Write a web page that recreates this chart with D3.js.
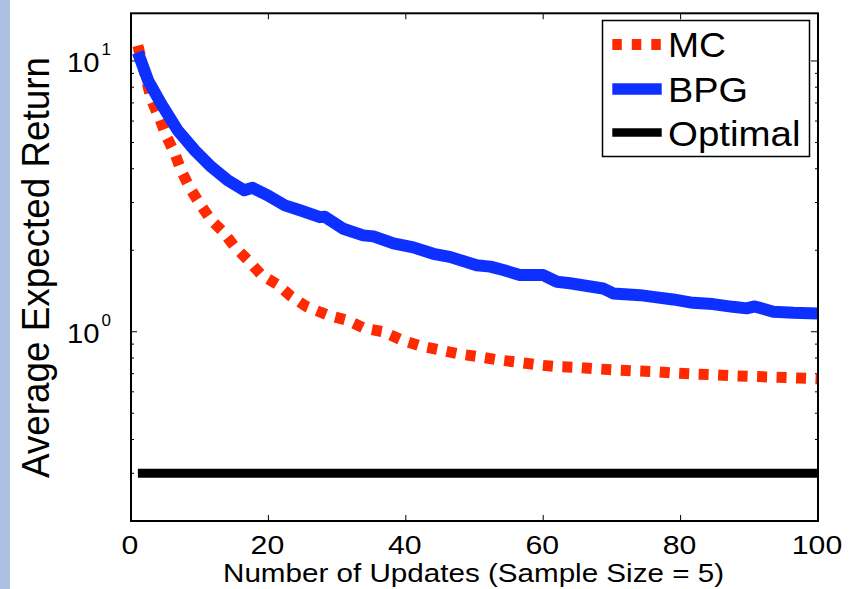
<!DOCTYPE html>
<html>
<head>
<meta charset="utf-8">
<script src="https://cdn.jsdelivr.net/npm/d3@7"></script>
<style>
  html, body { margin: 0; padding: 0; background: #fff; }
  svg { display: block; }
  text { font-family: "Liberation Sans", Arial, Helvetica, sans-serif; fill: #000; }
</style>
</head>
<body>
<svg id="chart" width="852" height="589"></svg>
<script>
// ---- data ----
const mcX = [1, 3, 4.2, 5.1, 6.4, 7.3, 8.5, 10, 11.7, 13.4, 15.1, 17, 19, 21.4, 23.3, 25.5, 28.7, 31.6, 34, 36.7, 39.4, 42.1, 45, 47.8, 50.6, 53.6, 56.4, 59.3, 62.1, 65, 67.9, 70.8, 73.8, 76.5, 79.4, 82.3, 85.2, 88.1, 91, 94, 96.9, 100];
const mcY = [11.39, 7.14, 6.11, 5.31, 4.54, 3.94, 3.42, 2.97, 2.58, 2.34, 2.06, 1.84, 1.62, 1.49, 1.35, 1.24, 1.15, 1.10, 1.03, 1.00, 0.932, 0.886, 0.856, 0.828, 0.809, 0.786, 0.771, 0.754, 0.743, 0.739, 0.729, 0.722, 0.716, 0.712, 0.703, 0.697, 0.693, 0.687, 0.683, 0.679, 0.675, 0.67];
const bpgX = [1, 2.5, 4.4, 6.8, 9.3, 11.7, 14.1, 16.5, 17.7, 19.9, 22.4, 24.6, 27.5, 28.2, 30.9, 33.8, 35.3, 38.2, 41.1, 44.0, 46.4, 50.3, 52.3, 54.2, 56.6, 60.0, 62.0, 63.9, 68.7, 70.2, 74.1, 76.0, 78.9, 81.8, 84.7, 87.6, 89.6, 90.8, 93.5, 96.4, 100];
const bpgY = [10.76, 8.46, 6.94, 5.54, 4.67, 4.06, 3.62, 3.33, 3.40, 3.19, 2.93, 2.81, 2.65, 2.66, 2.40, 2.27, 2.25, 2.12, 2.05, 1.94, 1.89, 1.76, 1.74, 1.69, 1.62, 1.62, 1.53, 1.51, 1.445, 1.385, 1.365, 1.345, 1.316, 1.279, 1.265, 1.236, 1.22, 1.24, 1.185, 1.175, 1.169];
const optimalX = [1, 100];
const optimalY = [0.3, 0.3];
const seriesNames = ["MC", "BPG", "Optimal"];
const xTicks = [0, 20, 40, 60, 80, 100];
const yMajorTicks = [1, 10];
const yMajorExp = ["0", "1"];
const yMinorTicks = [0.3, 0.4, 0.5, 0.6, 0.7, 0.8, 0.9, 2, 3, 4, 5, 6, 7, 8, 9];
const xLabel = "Number of Updates (Sample Size = 5)";
const yLabel = "Average Expected Return";

// ---- layout ----
const L = 131, R = 818, T = 13.3, B = 521;
const svg = d3.select("#chart");

svg.append("rect").attr("x", 0).attr("y", 0).attr("width", 10).attr("height", 589).attr("fill", "#a9c0e0");

const x = d3.scaleLinear().domain([0, 100]).range([L, R]);
const y = d3.scaleLog().domain([0.2, 15]).range([B, T]);

svg.append("defs").append("clipPath").attr("id", "clip")
  .append("rect").attr("x", L).attr("y", T).attr("width", R - L).attr("height", B - T);

// ticks (inward, all four sides)
const tickG = svg.append("g").attr("stroke", "#000").attr("stroke-width", 1);
xTicks.forEach(v => {
  tickG.append("line").attr("x1", x(v)).attr("x2", x(v)).attr("y1", B).attr("y2", B - 6);
  tickG.append("line").attr("x1", x(v)).attr("x2", x(v)).attr("y1", T).attr("y2", T + 6);
});
yMajorTicks.forEach(v => {
  tickG.append("line").attr("x1", L).attr("x2", L + 6).attr("y1", y(v)).attr("y2", y(v));
  tickG.append("line").attr("x1", R).attr("x2", R - 7).attr("y1", y(v)).attr("y2", y(v));
});
yMinorTicks.forEach(v => {
  tickG.append("line").attr("x1", L).attr("x2", L + 3).attr("y1", y(v)).attr("y2", y(v));
  tickG.append("line").attr("x1", R).attr("x2", R - 3).attr("y1", y(v)).attr("y2", y(v));
});

// lines
const line = d3.line().x(d => x(d[0])).y(d => y(d[1]));
const plot = svg.append("g").attr("clip-path", "url(#clip)");
plot.append("path").datum(mcX.map((v, i) => [v, mcY[i]]))
  .attr("d", line).attr("fill", "none").attr("stroke", "#ff2a00")
  .attr("stroke-width", 11).attr("stroke-dasharray", "10,9.5").attr("stroke-linejoin", "round");
plot.append("path").datum(bpgX.map((v, i) => [v, bpgY[i]]))
  .attr("d", line).attr("fill", "none").attr("stroke", "#0d2fff")
  .attr("stroke-width", 12).attr("stroke-linejoin", "round");
plot.append("path").datum(optimalX.map((v, i) => [v, optimalY[i]]))
  .attr("d", line).attr("fill", "none").attr("stroke", "#000")
  .attr("stroke-width", 9);

// box
svg.append("rect").attr("x", L).attr("y", T).attr("width", R - L).attr("height", B - T)
  .attr("fill", "none").attr("stroke", "#000").attr("stroke-width", 2);

// x tick labels
xTicks.forEach(v => {
  const s = String(v);
  svg.append("text").attr("x", x(v) - 1).attr("y", 553.5).attr("text-anchor", "middle")
    .attr("font-size", 26).attr("textLength", 16.8 * s.length).attr("lengthAdjust", "spacingAndGlyphs").text(s);
});
// y tick labels
yMajorTicks.forEach((v, i) => {
  svg.append("text").attr("x", 99.5).attr("y", y(v) + 11).attr("text-anchor", "end")
    .attr("font-size", 27).attr("textLength", 32.6).attr("lengthAdjust", "spacingAndGlyphs").text("10");
  svg.append("text").attr("x", 101.5).attr("y", y(v) - 6).attr("font-size", 17).text(yMajorExp[i]);
});

// axis labels
svg.append("text").attr("x", 223).attr("y", 582).attr("font-size", 25)
  .attr("textLength", 501).attr("lengthAdjust", "spacingAndGlyphs").text(xLabel);
svg.append("text").attr("transform", "translate(48.5,478) rotate(-90)")
  .attr("font-size", 38).attr("textLength", 421).attr("lengthAdjust", "spacingAndGlyphs").text(yLabel);

// legend
const lg = svg.append("g");
lg.append("rect").attr("x", 602.5).attr("y", 20.5).attr("width", 207).attr("height", 136)
  .attr("fill", "#fff").attr("stroke", "#000").attr("stroke-width", 1.5);
const legendRows = [
  { name: seriesNames[0], cy: 44.5, base: 56.7, w: 58, color: "#ff2a00", sw: 11, dash: "9.5,10" },
  { name: seriesNames[1], cy: 89, base: 101.5, w: 80, color: "#0d2fff", sw: 11.5, dash: null },
  { name: seriesNames[2], cy: 132.5, base: 145.5, w: 132.5, color: "#000", sw: 8.5, dash: null }
];
legendRows.forEach(r => {
  const ln = lg.append("line").attr("x1", 612.3).attr("x2", 661.7).attr("y1", r.cy).attr("y2", r.cy)
    .attr("stroke", r.color).attr("stroke-width", r.sw);
  if (r.dash) ln.attr("stroke-dasharray", r.dash);
  lg.append("text").attr("x", 668).attr("y", r.base).attr("font-size", 35)
    .attr("textLength", r.w).attr("lengthAdjust", "spacingAndGlyphs").text(r.name);
});
</script>
</body>
</html>
